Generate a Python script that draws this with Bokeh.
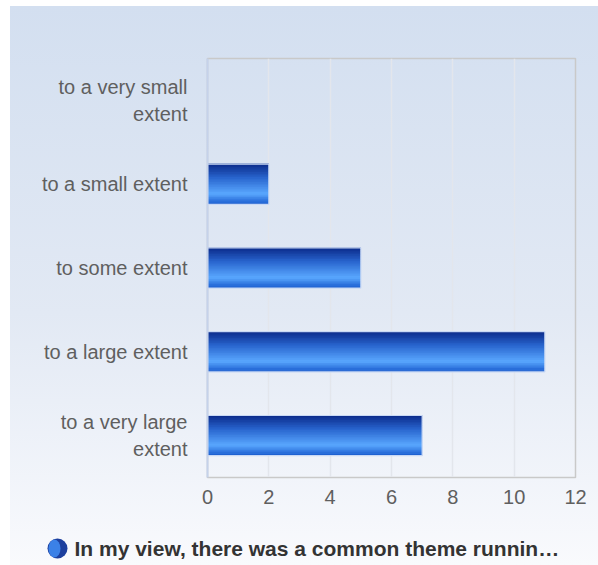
from bokeh.plotting import figure
from bokeh.layouts import column, row
from bokeh.models import Range1d, FixedTicker
from bokeh.core.properties import value
from bokeh.embed import file_html
from bokeh.resources import INLINE

categories = ["to a very small\nextent", "to a small extent", "to some extent",
              "to a large extent", "to a very large\nextent"]
values = [0, 2, 5, 11, 7]
x_ticks = [0, 2, 4, 6, 8, 10, 12]
series_name = "In my view, there was a common theme runnin\u2026"

positions = list(range(len(categories)))

p = figure(output_backend="svg", toolbar_location=None,
           width=588, height=519, frame_width=368, frame_height=419,
           min_border_left=197, min_border_right=23, min_border_top=52, min_border_bottom=48,
           x_range=Range1d(0, 12), y_range=Range1d(4.5, -0.5))
p.border_fill_color = None
p.background_fill_color = None
p.outline_line_color = "#c9c9c9"
p.outline_line_width = 1.5

# gradient bars (horizontal strips)
bar_h = 0.48
stops = [(0.0, (10, 40, 135)), (0.35, (40, 100, 205)), (0.75, (90, 168, 255)), (1.0, (25, 90, 205))]
def col(t):
    for (t0, c0), (t1, c1) in zip(stops[:-1], stops[1:]):
        if t0 <= t <= t1:
            f = (t - t0) / (t1 - t0)
            return "#%02x%02x%02x" % tuple(int(round(a + (b - a) * f)) for a, b in zip(c0, c1))
    return "#%02x%02x%02x" % stops[-1][1]

n = 24
sh = bar_h / n
for i in range(n):
    t = (i + 0.5) / n
    ys = [pos - bar_h / 2 + sh * (i + 0.5) for pos in positions]
    h = sh * 1.6 if i < n - 1 else sh
    p.hbar(y=ys, left=0, right=values, height=h, fill_color=col(t), line_color=None)
p.hbar(y=positions, left=0, right=values, height=bar_h, fill_color=None,
       line_color="#c8d8f4", line_width=1.2)

p.xaxis.ticker = FixedTicker(ticks=x_ticks)
p.yaxis.ticker = FixedTicker(ticks=positions)
p.yaxis.major_label_overrides = {i: c for i, c in enumerate(categories)}

for ax in (p.xaxis[0], p.yaxis[0]):
    ax.major_tick_line_color = None
    ax.minor_tick_line_color = None
    ax.major_label_text_font = "Liberation Sans"
    ax.major_label_text_font_size = "20px"
    ax.major_label_text_color = "#5f5f5f"
p.xaxis.axis_line_color = "#c9c9c9"
p.yaxis.axis_line_color = "#c5d2ea"
p.yaxis.axis_line_width = 2
p.xaxis.major_label_standoff = 6
p.yaxis.major_label_standoff = 14

p.xgrid.grid_line_color = "#e3e6ec"
p.xgrid.grid_line_width = 1.5
p.ygrid.grid_line_color = None

# legend strip (separate small figure, pixel-like ranges)
lg = figure(output_backend="svg", toolbar_location=None, width=588, height=40,
            min_border=0, x_range=Range1d(0, 588), y_range=Range1d(-17, 23))
lg.border_fill_color = None
lg.background_fill_color = None
lg.outline_line_color = None
lg.axis.visible = False
lg.grid.visible = False
lg.scatter(x=[47], y=[0], marker="circle", size=20, fill_color="#1c3f9e", line_color=None)
lg.ellipse(x=[44], y=[0], width=12, height=18, width_units="screen", height_units="screen",
           fill_color="#3f88ee", fill_alpha=0.9, line_color=None)
lg.text(x=[64], y=[0], text=[series_name], text_baseline="middle", text_align="left",
        text_font=value("Liberation Sans"), text_font_style="bold",
        text_font_size="21px", text_color="#333333")

layout = column(row(p), row(lg), spacing=0, margin=(6, 0, 0, 10),
                styles={"background": "linear-gradient(to bottom, #d3dff0 0%, #e2e9f4 55%, #f9fafd 100%)"})

open("out.html", "w").write(file_html(layout, INLINE))
